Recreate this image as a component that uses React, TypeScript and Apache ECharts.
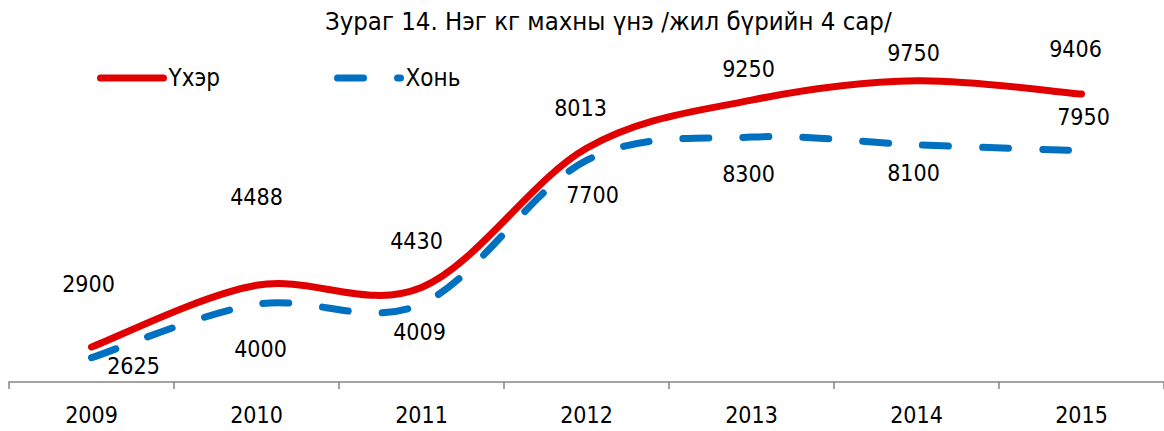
import React, { useEffect, useRef } from "react";
import * as echarts from "echarts";

const years = ["2009", "2010", "2011", "2012", "2013", "2014", "2015"];
const cattle = [2900, 4488, 4430, 8013, 9250, 9750, 9406];
const sheep = [2625, 4000, 4009, 7700, 8300, 8100, 7950];
const seriesNames = ["Үхэр", "Хонь"];
const titleText = "Зураг 14. Нэг кг махны үнэ /жил бүрийн 4 сар/";

// label placement (pixel offsets from each point), kept apart from data
const cattleLabelOffsets = [[-3, -63], [0, -88], [-5, -47], [-6, -40], [-3, -31], [-3, -28], [-6, -45]];
const sheepLabelOffsets = [[42, 8], [4, 45], [-2, 28], [6, 35], [-3, 37], [-3, 28], [2, -34]];

const FONT = "'DejaVu Sans Condensed', 'DejaVu Sans', sans-serif";
const RED = "#E00000";
const BLUE = "#0070C0";
const DASH = [26, 34];

// Excel-like (Catmull-Rom) smooth curve through the points given by the axis scales
function smoothPath(pts: number[][]): string {
  let d = `M${pts[0][0]} ${pts[0][1]}`;
  for (let i = 0; i < pts.length - 1; i++) {
    const p0 = pts[Math.max(i - 1, 0)];
    const p1 = pts[i];
    const p2 = pts[i + 1];
    const p3 = pts[Math.min(i + 2, pts.length - 1)];
    const c1x = p1[0] + (p2[0] - p0[0]) / 6;
    const c1y = p1[1] + (p2[1] - p0[1]) / 6;
    const c2x = p2[0] - (p3[0] - p1[0]) / 6;
    const c2y = p2[1] - (p3[1] - p1[1]) / 6;
    d += ` C${c1x} ${c1y} ${c2x} ${c2y} ${p2[0]} ${p2[1]}`;
  }
  return d;
}

function curveSeries(values: number[], color: string, dashed: boolean, z: number) {
  return {
    type: "custom",
    z,
    clip: false,
    silent: true,
    data: values.map((v, i) => [i, v]),
    renderItem: (params: any, api: any) => {
      if (params.dataIndex !== 0) return null;
      const pts = values.map((v, i) => api.coord([i, v]));
      return {
        type: "path",
        shape: { pathData: smoothPath(pts) },
        style: {
          fill: "none",
          stroke: color,
          lineWidth: 7,
          lineCap: "round",
          lineJoin: "round",
          lineDash: dashed ? DASH : null,
        },
      };
    },
  };
}

export default function App() {
  const ref = useRef<HTMLDivElement>(null);
  useEffect(() => {
    if (!ref.current) return;
    const chart = echarts.init(ref.current, undefined, { renderer: "svg" });
    const labelBase = {
      show: true,
      position: "inside",
      fontSize: 23,
      color: "#000",
      fontFamily: FONT,
    };
    chart.setOption({
      animation: false,
      backgroundColor: "#fff",
      title: {
        text: titleText,
        left: 320,
        top: 1,
        textStyle: { fontSize: 25.5, fontWeight: "normal", color: "#000", fontFamily: FONT, lineHeight: 30 },
      },
      legend: {
        left: 92,
        top: 61,
        itemWidth: 63,
        itemHeight: 22,
        itemGap: 114,
        textStyle: { fontSize: 24, color: "#000", fontFamily: FONT },
        data: [
          {
            name: seriesNames[0],
            itemStyle: { opacity: 0 },
            lineStyle: { color: RED, width: 7, opacity: 1, type: "solid", cap: "round" },
          },
          {
            name: seriesNames[1],
            itemStyle: { opacity: 0 },
            lineStyle: { color: BLUE, width: 7, opacity: 1, type: DASH, cap: "round" },
          },
        ],
      },
      grid: { left: 9, top: 71, width: 1161, height: 311, containLabel: false },
      xAxis: {
        type: "category",
        data: years,
        boundaryGap: true,
        axisLine: { lineStyle: { color: "#868686", width: 1.5 } },
        axisTick: { show: true, length: 7, lineStyle: { color: "#868686", width: 1.5 } },
        axisLabel: { fontSize: 23, color: "#000", fontFamily: FONT, margin: 21 },
        splitLine: { show: false },
      },
      yAxis: { type: "value", min: 2000, max: 10000, show: false, splitLine: { show: false } },
      series: [
        {
          name: seriesNames[0],
          type: "line",
          symbol: "circle",
          symbolSize: 0,
          itemStyle: { color: RED },
          lineStyle: { color: RED, width: 7, opacity: 0 },
          label: labelBase,
          data: cattle.map((v, i) => ({ value: v, label: { offset: cattleLabelOffsets[i] } })),
          z: 5,
        },
        {
          name: seriesNames[1],
          type: "line",
          symbol: "circle",
          symbolSize: 0,
          itemStyle: { color: BLUE },
          lineStyle: { color: BLUE, width: 7, type: DASH, opacity: 0 },
          label: labelBase,
          data: sheep.map((v, i) => ({ value: v, label: { offset: sheepLabelOffsets[i] } })),
          z: 5,
        },
        curveSeries(sheep, BLUE, true, 2),
        curveSeries(cattle, RED, false, 3),
      ],
    });
    return () => chart.dispose();
  }, []);
  return (
    <div
      ref={ref}
      style={{ position: "absolute", left: 0, top: 0, width: 1164, height: 431 }}
    />
  );
}
